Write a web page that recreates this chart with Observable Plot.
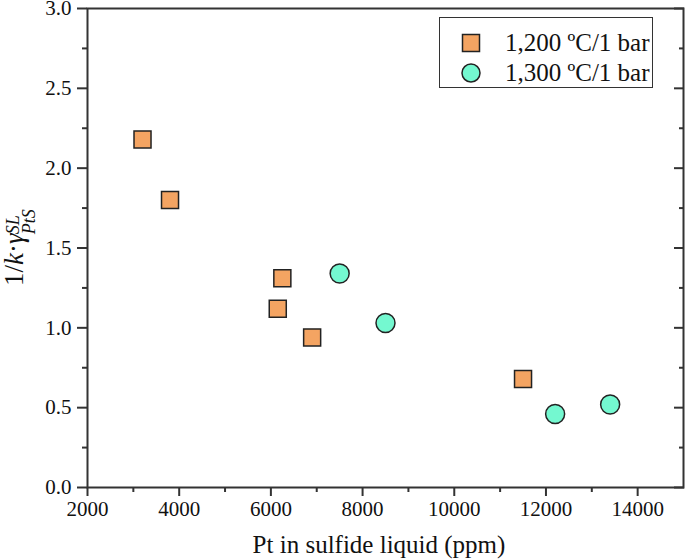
<!DOCTYPE html>
<html>
<head>
<meta charset="utf-8">
<script src="https://cdn.jsdelivr.net/npm/d3@7"></script>
<script src="https://cdn.jsdelivr.net/npm/@observablehq/plot@0.6"></script>
<style>
  body { margin: 0; background: #fff; }
  #wrap { position: relative; width: 685px; height: 560px; font-family: "Liberation Serif", serif; }
  #legend { position: absolute; left: 439px; top: 17px; width: 214px; height: 71px; border: 1px solid #333; background: #fff; box-sizing: border-box; }
  .row { position: absolute; left: 0; height: 30px; display: flex; align-items: center; font-size: 25px; color: #111; white-space: nowrap; }
  .row svg { margin-left: 21px; margin-right: 24px; }
</style>
</head>
<body>
<div id="wrap"></div>
<script>
// data
const series1Label = "1,200 ºC/1 bar";
const series2Label = "1,300 ºC/1 bar";
const s1X = [3200, 3800, 6250, 6150, 6900, 11500];
const s1Y = [2.18, 1.80, 1.31, 1.12, 0.94, 0.68];
const s2X = [7500, 8500, 12200, 13400];
const s2Y = [1.34, 1.03, 0.46, 0.52];
const xMajor = [2000, 4000, 6000, 8000, 10000, 12000, 14000];
const xMinor = [3000, 5000, 7000, 9000, 11000, 13000];
const yMajor = [0, 0.5, 1.0, 1.5, 2.0, 2.5, 3.0];
const yMinor = [0.25, 0.75, 1.25, 1.75, 2.25, 2.75];
const xTitle = "Pt in sulfide liquid (ppm)";

const color1 = "#F4A462";
const color2 = "#74F8D0";
const strokeC = "#222";

const d1 = s1X.map((x, i) => ({x, y: s1Y[i]}));
const d2 = s2X.map((x, i) => ({x, y: s2Y[i]}));

const chart = Plot.plot({
  width: 685,
  height: 560,
  marginLeft: 87,
  marginRight: 2,
  marginTop: 8,
  marginBottom: 73,
  style: {fontFamily: "'Liberation Serif', serif", fontSize: "21px", color: "#111", background: "#fff"},
  x: {domain: [2000, 15000]},
  y: {domain: [0, 3]},
  marks: [
    Plot.axisX({ticks: xMajor, tickSize: 9, tickPadding: 5, tickFormat: d => String(d), fontSize: 21, label: null, stroke: "#333", strokeWidth: 2}),
    Plot.axisX({ticks: xMinor, tickSize: 5, text: null, label: null, stroke: "#333", strokeWidth: 2}),
    Plot.axisY({ticks: yMajor, tickSize: 10, tickPadding: 6, tickFormat: d => d.toFixed(1), fontSize: 21, label: null, stroke: "#333", strokeWidth: 2}),
    Plot.axisY({ticks: yMinor, tickSize: 5, text: null, label: null, stroke: "#333", strokeWidth: 2}),
    Plot.axisY({anchor: "right", ticks: yMajor, tickSize: -10, text: null, label: null, stroke: "#333", strokeWidth: 2}),
    Plot.axisY({anchor: "right", ticks: yMinor, tickSize: -5, text: null, label: null, stroke: "#333", strokeWidth: 2}),
    Plot.frame({stroke: "#333", strokeWidth: 2}),
    Plot.dot(d1, {x: "x", y: "y", symbol: "square", r: 9.6, fill: color1, stroke: strokeC, strokeWidth: 1.5}),
    Plot.dot(d2, {x: "x", y: "y", symbol: "circle", r: 9.5, fill: color2, stroke: strokeC, strokeWidth: 1.5})
  ]
});

const wrap = document.getElementById("wrap");
wrap.appendChild(chart);

const svg = d3.select(chart);
// x title
svg.append("text")
  .attr("x", 379).attr("y", 553)
  .attr("text-anchor", "middle")
  .attr("font-size", 25)
  .attr("fill", "#111")
  .text(xTitle);

// y title
const g = svg.append("g").attr("transform", "translate(23,286) rotate(-90)").attr("fill", "#111").attr("text-anchor", "start");
const main = g.append("text").attr("x", 0).attr("y", 0).attr("font-size", 27);
main.append("tspan").text("1/");
main.append("tspan").attr("font-style", "italic").text("k");
main.append("tspan").text("·");
main.append("tspan").attr("font-style", "italic").text("γ");
const mw = main.node().getComputedTextLength();
g.append("text").attr("x", mw - 1).attr("y", -4).attr("font-size", 18).attr("font-style", "italic").text("SL");
g.append("text").attr("x", mw - 1).attr("y", 12).attr("font-size", 18).attr("font-style", "italic").text("PtS");

// legend
const legend = document.createElement("div");
legend.id = "legend";
legend.innerHTML = `
  <div class="row" style="top:10px"><svg width="20" height="20"><rect x="1.5" y="1.5" width="17" height="17" fill="${color1}" stroke="${strokeC}" stroke-width="1.5"/></svg><span>${series1Label}</span></div>
  <div class="row" style="top:40px"><svg width="20" height="20"><circle cx="10" cy="10" r="9" fill="${color2}" stroke="${strokeC}" stroke-width="1.5"/></svg><span>${series2Label}</span></div>`;
wrap.appendChild(legend);
</script>
</body>
</html>
